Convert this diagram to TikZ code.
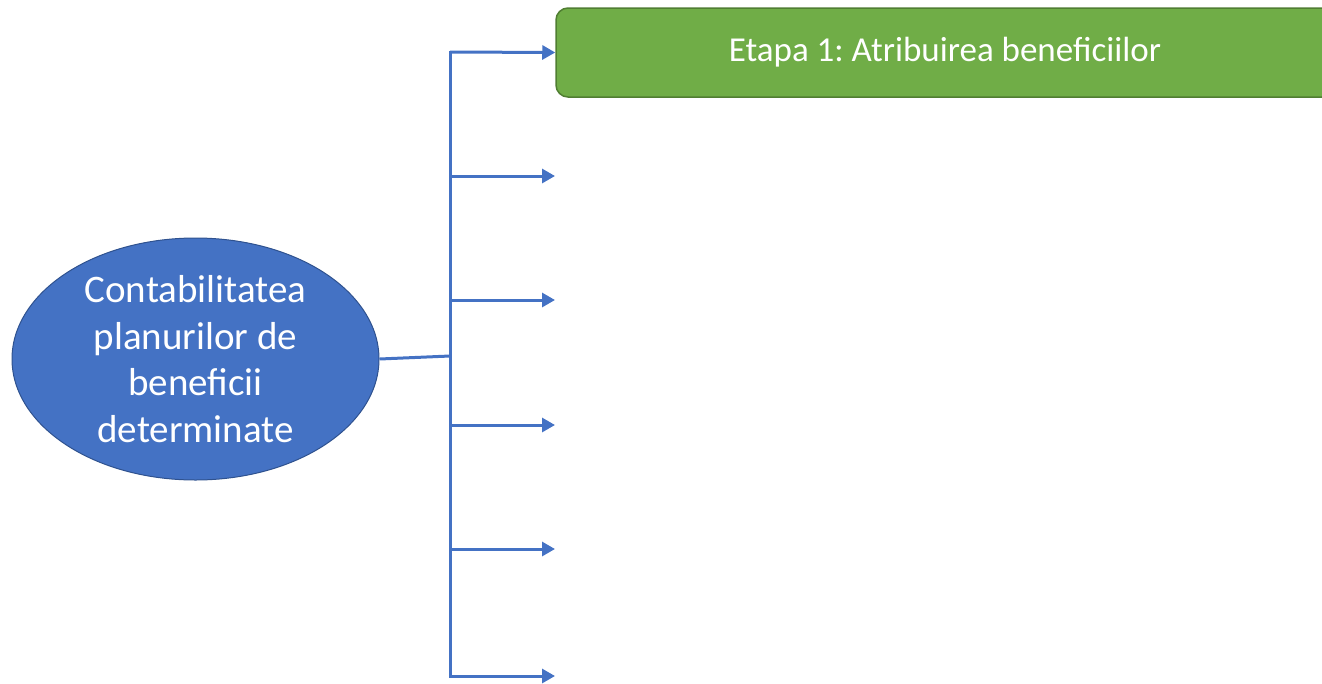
\documentclass[tikz,border=0pt]{standalone}
\usepackage{fontspec}
\setmainfont{Carlito}
\frenchspacing
\usetikzlibrary{arrows.meta,shapes.geometric}
\definecolor{cblue}{HTML}{4472C4}
\definecolor{cblueD}{HTML}{2F528F}
\definecolor{cgreen}{HTML}{70AD47}
\definecolor{cgreenD}{HTML}{507E32}
\tikzset{
  conn/.style={draw=cblue, line width=3pt},
  arr/.style={conn, -{Triangle[length=13pt,width=14pt]}},
  ovalbox/.style={ellipse, draw=cblueD, line width=1pt, fill=cblue, text=white, inner sep=0pt, minimum width=367pt, minimum height=242pt, align=center, font=\fontsize{39}{46.5}\selectfont},
  greenbox/.style={rectangle, rounded corners=12pt, draw=cgreenD, line width=1.5pt, fill=cgreen, text=white, minimum width=778pt, minimum height=89pt, font=\fontsize{35}{40}\selectfont}
}
\begin{document}
\begin{tikzpicture}[x=1pt,y=-1pt]
\clip (0,0) rectangle (1322,683);
\node[ovalbox] (ell) at (195.5,359) {Contabilitatea\\planurilor de\\beneficii\\determinate};
\node[greenbox] (e1) at (945,52.5) {Etapa 1: Atribuirea beneficiilor};
\coordinate (b1) at (450,52);
\coordinate (b2) at (450,176);
\coordinate (b3) at (450,300);
\coordinate (b4) at (450,425);
\coordinate (b5) at (450,549);
\coordinate (b6) at (450,676);
\coordinate (sp) at (450,356);
\coordinate (t2) at (555,176);
\coordinate (t3) at (555,300);
\coordinate (t4) at (555,425);
\coordinate (t5) at (555,549);
\coordinate (t6) at (555,676);
\draw[conn, line cap=rect] (b1) -- (b6);
\draw[conn] (ell.east) -- (sp);
\draw[arr] (b1) -- (e1.west);
\draw[arr] (b2) -- (t2);
\draw[arr] (b3) -- (t3);
\draw[arr] (b4) -- (t4);
\draw[arr] (b5) -- (t5);
\draw[arr] (b6) -- (t6);
\end{tikzpicture}
\end{document}
